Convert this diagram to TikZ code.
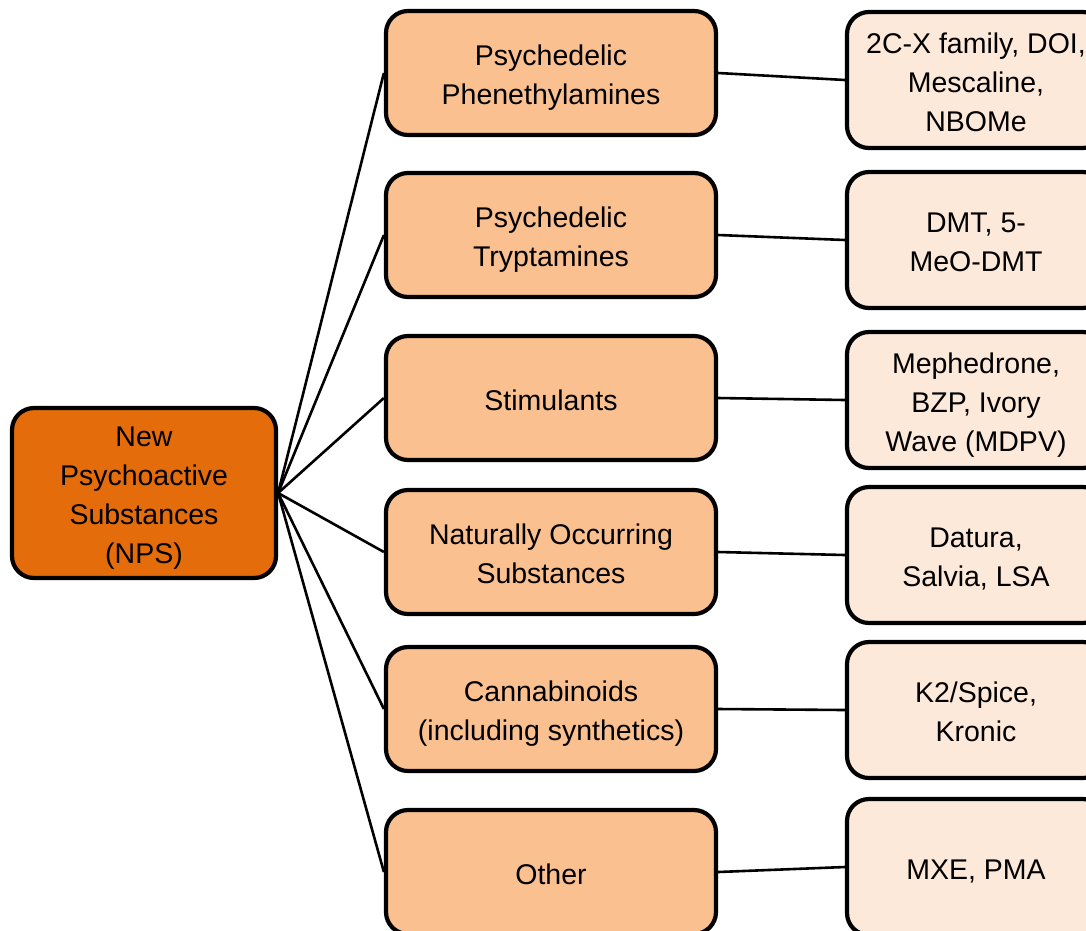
\documentclass[tikz,border=0pt]{standalone}
\usepackage{fontspec}
\setmainfont{Liberation Sans}
\definecolor{rootfill}{HTML}{E46C0A}
\definecolor{midfill}{HTML}{FAC090}
\definecolor{leaffill}{HTML}{FDE9D9}
\newcommand\mytop{\rule{0pt}{31pt}}
\newcommand\mybot{\rule[-7pt]{0pt}{0pt}}
\begin{document}
\begin{tikzpicture}[x=1pt,y=-1pt,
  box/.style={draw=black, line width=4.2pt, rounded corners=22pt, align=center,
    font=\fontsize{28.5}{39}\selectfont, inner sep=0pt},
  rootbox/.style={box, fill=rootfill, minimum width=264pt, minimum height=170pt},
  midbox/.style={box, fill=midfill, minimum width=330pt, minimum height=124pt},
  leafbox/.style={box, fill=leaffill, minimum width=258pt, minimum height=136pt},
  link/.style={line width=2.6pt}]
\useasboundingbox (0,0) rectangle (1086,930);
\clip (0,0) rectangle (1086,930);
\node[rootbox] (root) at (144,493) {\mytop New\\Psychoactive\\Substances\\(NPS)\mybot};
\node[midbox] (m1) at (551,73) {\mytop Psychedelic\\Phenethylamines\mybot};
\node[midbox] (m2) at (551,235) {\mytop Psychedelic\\Tryptamines\mybot};
\node[midbox] (m3) at (551,398) {\mytop Stimulants\mybot};
\node[midbox] (m4) at (551,552) {\mytop Naturally Occurring\\Substances\mybot};
\node[midbox] (m5) at (551,709) {\mytop Cannabinoids\\(including synthetics)\mybot};
\node[midbox] (m6) at (551,872) {\mytop Other\mybot};
\node[leafbox] (l1) at (976,80) {\mytop 2C-X family, DOI,\\Mescaline,\\NBOMe\mybot};
\node[leafbox] (l2) at (976,240) {\mytop DMT, 5-\\MeO-DMT\mybot};
\node[leafbox] (l3) at (976,400) {\mytop Mephedrone,\\BZP, Ivory\\Wave (MDPV)\mybot};
\node[leafbox] (l4) at (976,555) {\mytop Datura,\\Salvia, LSA\mybot};
\node[leafbox] (l5) at (976,710) {\mytop K2/Spice,\\Kronic\mybot};
\node[leafbox] (l6) at (976,867) {\mytop MXE, PMA\mybot};
\foreach \i in {1,...,6}{
  \draw[link] (root.east) -- (m\i.west);
  \draw[link] (m\i.east) -- (l\i.west);
}
\end{tikzpicture}
\end{document}
